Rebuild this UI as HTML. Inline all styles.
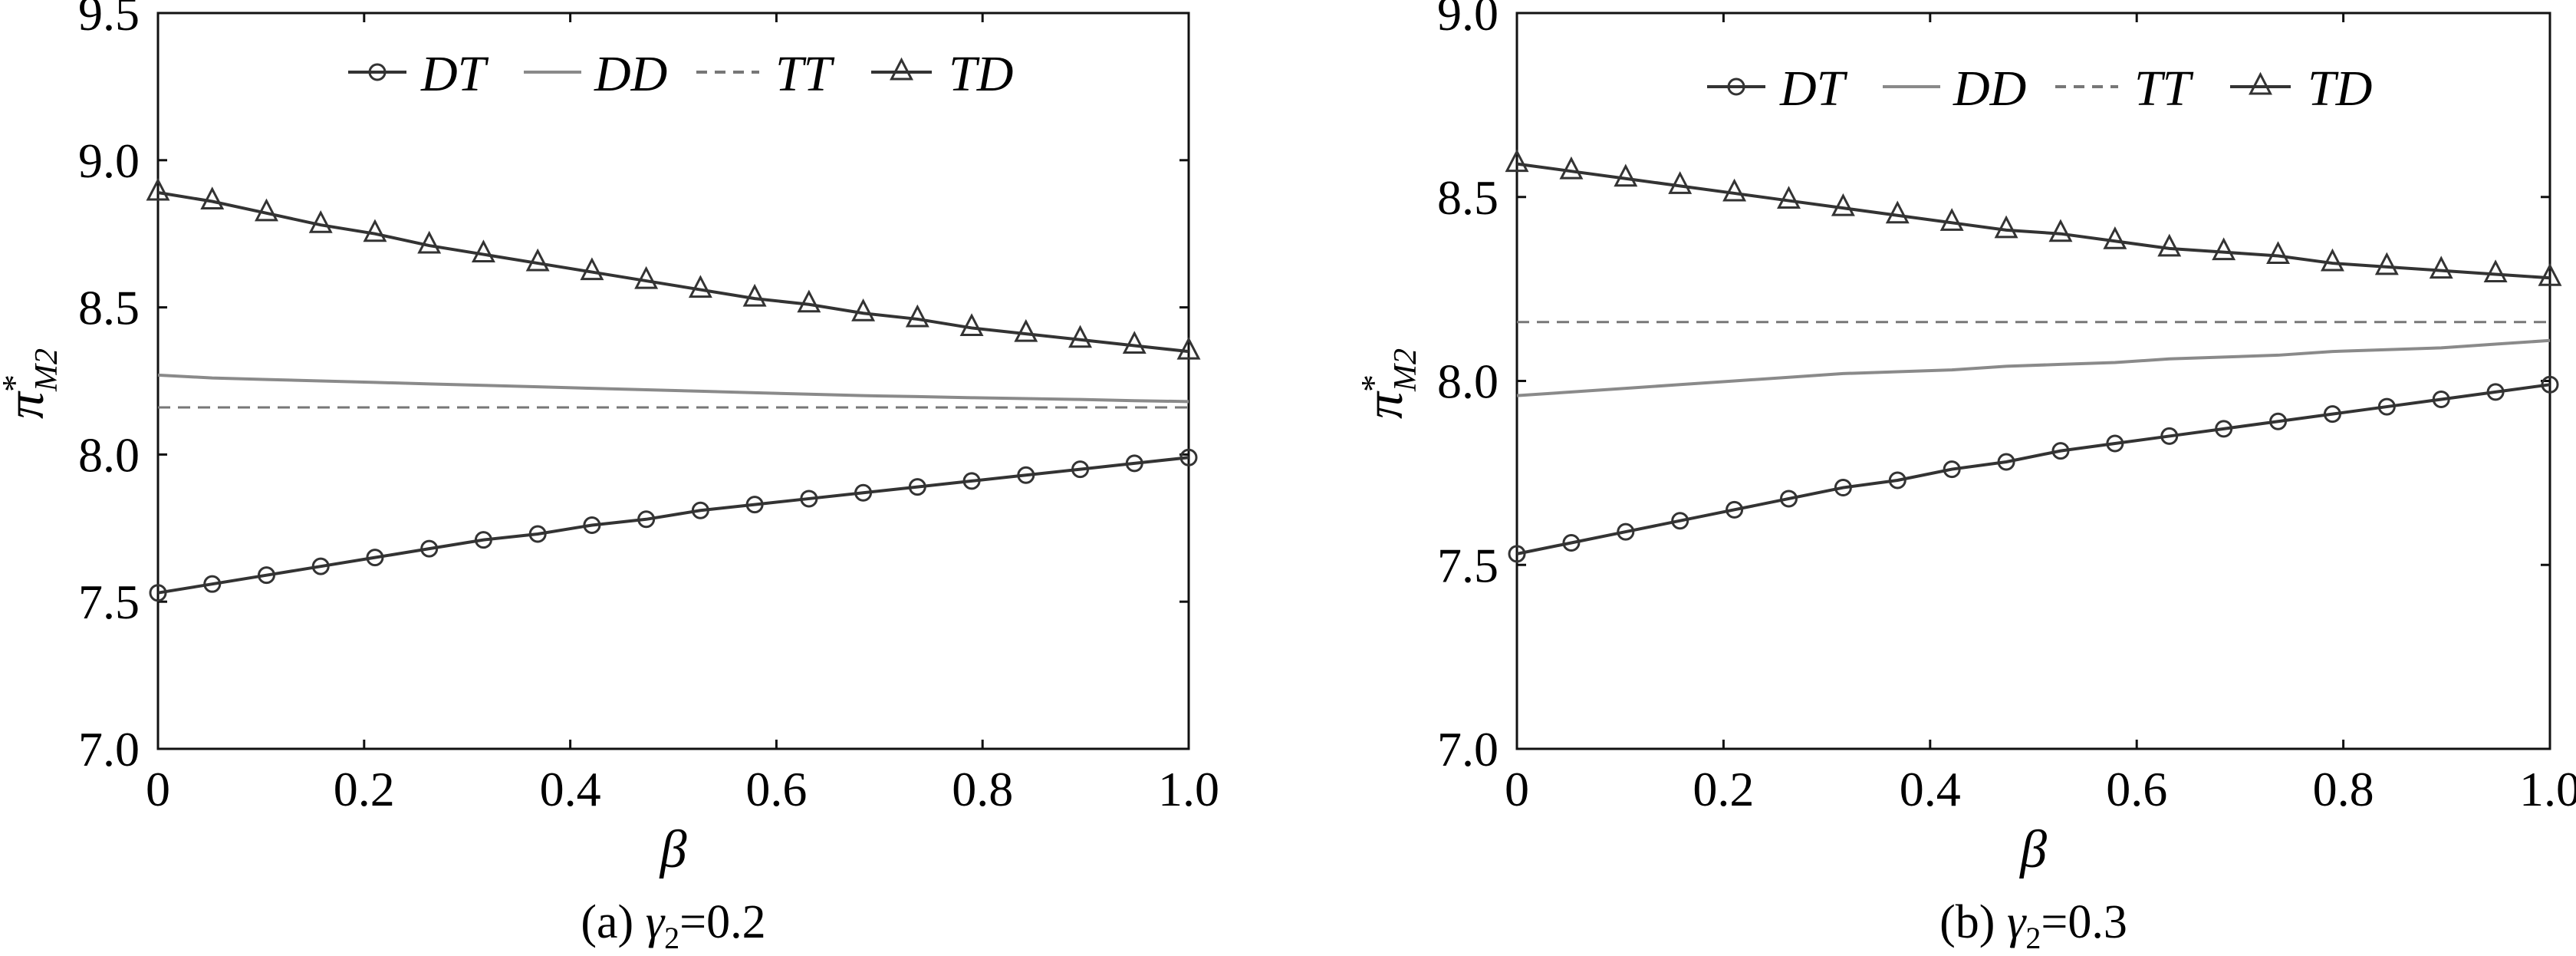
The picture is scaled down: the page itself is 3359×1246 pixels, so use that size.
<!DOCTYPE html>
<html><head><meta charset="utf-8"><style>
html,body{margin:0;padding:0;background:#fff}
svg{display:block}
text{font-family:"Liberation Serif",serif;fill:#000}
</style></head><body>
<svg id="fig" width="3359" height="1246" viewBox="0 0 3359 1246" xmlns="http://www.w3.org/2000/svg"></svg>
<script>
const betaValues=[0,1/19,2/19,3/19,4/19,5/19,6/19,7/19,8/19,9/19,10/19,11/19,12/19,13/19,14/19,15/19,16/19,17/19,18/19,1];
const xTicks=[0,0.2,0.4,0.6,0.8,1.0];
const xTickLabels=["0","0.2","0.4","0.6","0.8","1.0"];
const aYTicks=[7.0,7.5,8.0,8.5,9.0,9.5];
const aYTickLabels=["7.0","7.5","8.0","8.5","9.0","9.5"];
const bYTicks=[7.0,7.5,8.0,8.5,9.0];
const bYTickLabels=["7.0","7.5","8.0","8.5","9.0"];
const aTD=[8.89,8.86,8.82,8.78,8.75,8.71,8.68,8.65,8.62,8.59,8.56,8.53,8.51,8.48,8.46,8.43,8.41,8.39,8.37,8.35];
const aDT=[7.53,7.56,7.59,7.62,7.65,7.68,7.71,7.73,7.76,7.78,7.81,7.83,7.85,7.87,7.89,7.91,7.93,7.95,7.97,7.99];
const aDD=[8.27,8.26,8.255,8.25,8.245,8.24,8.235,8.23,8.225,8.22,8.215,8.21,8.205,8.2,8.197,8.193,8.19,8.187,8.183,8.18];
const aTT=[8.16,8.16];
const bTD=[8.59,8.57,8.55,8.53,8.51,8.49,8.47,8.45,8.43,8.41,8.40,8.38,8.36,8.35,8.34,8.32,8.31,8.30,8.29,8.28];
const bDT=[7.53,7.56,7.59,7.62,7.65,7.68,7.71,7.73,7.76,7.78,7.81,7.83,7.85,7.87,7.89,7.91,7.93,7.95,7.97,7.99];
const bDD=[7.96,7.97,7.98,7.99,8.0,8.01,8.02,8.025,8.03,8.04,8.045,8.05,8.06,8.065,8.07,8.08,8.085,8.09,8.10,8.11];
const bTT=[8.16,8.16];

const NS="http://www.w3.org/2000/svg";
const svg=document.getElementById('fig');
function mk(tag,attrs,parent){const e=document.createElementNS(NS,tag);for(const k in attrs)e.setAttribute(k,attrs[k]);(parent||svg).appendChild(e);return e;}

function panel(id,L,R,T,B,ymin,ymax,yTicks,yLabels,TD,DT,DD,TT,legY,caption,capLetter){
  const g=mk('g',{});
  
  
  const sx=v=>L+(R-L)*v;
  const sy=v=>B-(B-T)*(v-ymin)/(ymax-ymin);
  const frame=mk('rect',{x:L,y:T,width:R-L,height:B-T,fill:'none',stroke:'#111','stroke-width':3},g);
  
  
  xTicks.forEach((v,i)=>{
    const x=sx(v);
    const t1=mk('line',{x1:x,y1:B,x2:x,y2:B-12,stroke:'#111','stroke-width':3},g);
    
    
    const t2=mk('line',{x1:x,y1:T,x2:x,y2:T+12,stroke:'#111','stroke-width':3},g);
    
    
    const lb=mk('text',{x:x,y:1050,'font-size':64,'text-anchor':'middle'},g);
    lb.textContent=xTickLabels[i];
    
    
  });
  yTicks.forEach((v,i)=>{
    const y=sy(v);
    const t1=mk('line',{x1:L,y1:y,x2:L+12,y2:y,stroke:'#111','stroke-width':3},g);
    
    
    const t2=mk('line',{x1:R,y1:y,x2:R-12,y2:y,stroke:'#111','stroke-width':3},g);
    
    
    const lb=mk('text',{x:L-24,y:y+22,'font-size':64,'text-anchor':'end'},g);
    lb.textContent=yLabels[i];
    
    
  });
  // series
  const pts=arr=>arr.map((v,i)=>sx(betaValues[i])+','+sy(v)).join(' ');
  const dd=mk('polyline',{points:pts(DD),fill:'none',stroke:'#8a8a8a','stroke-width':4},g);
  
  
  const tt=mk('line',{x1:sx(0),y1:sy(TT[0]),x2:sx(1),y2:sy(TT[1]),stroke:'#777','stroke-width':3,'stroke-dasharray':'16 10'},g);
  
  
  const td=mk('polyline',{points:pts(TD),fill:'none',stroke:'#333','stroke-width':4},g);
  
  
  const dt=mk('polyline',{points:pts(DT),fill:'none',stroke:'#333','stroke-width':4},g);
  
  
  TD.forEach((v,i)=>{
    const x=sx(betaValues[i]),y=sy(v);
    const m=mk('polygon',{points:`${x},${y-16} ${x-13},${y+9} ${x+13},${y+9}`,fill:'none',stroke:'#333','stroke-width':3},g);
    
    
  });
  DT.forEach((v,i)=>{
    const m=mk('circle',{cx:sx(betaValues[i]),cy:sy(v),r:10,fill:'none',stroke:'#333','stroke-width':3},g);
    
    
  });
  // legend
  const lg=mk('g',{},g);
  
  
  const o=L;
  const items=[
    {name:'DT',x1:248,x2:324,tx:343,stroke:'#333',dash:null,mark:'c'},
    {name:'DD',x1:477,x2:552,tx:569,stroke:'#8a8a8a',dash:null,mark:null},
    {name:'TT',x1:702,x2:784,tx:805,stroke:'#777',dash:'14 10',mark:null},
    {name:'TD',x1:930,x2:1009,tx:1031,stroke:'#333',dash:null,mark:'t'}
  ];
  items.forEach(it=>{
    const e=mk('g',{},lg);
    
    
    const a={x1:o+it.x1,y1:legY,x2:o+it.x2,y2:legY,stroke:it.stroke,'stroke-width':4};
    if(it.dash)a['stroke-dasharray']=it.dash;
    mk('line',a,e);
    const cx=o+(it.x1+it.x2)/2;
    if(it.mark==='c')mk('circle',{cx:cx,cy:legY,r:10,fill:'none',stroke:'#333','stroke-width':3},e);
    if(it.mark==='t')mk('polygon',{points:`${cx},${legY-16} ${cx-13},${legY+9} ${cx+13},${legY+9}`,fill:'none',stroke:'#333','stroke-width':3},e);
    const t=mk('text',{x:o+it.tx,y:legY+24,'font-size':66,'font-style':'italic'},e);
    t.textContent=it.name;
  });
  // axis titles
  const xt=mk('text',{x:(L+R)/2,y:1130,'font-size':70,'font-style':'italic','text-anchor':'middle'},g);
  xt.textContent='β';
  
  
  const yx=L-150,yy=500;
  const yt=mk('text',{x:0,y:0,'font-size':70,'font-style':'italic',transform:`translate(${yx},${yy}) rotate(-90)`,'text-anchor':'middle'},g);
  
  
  const s1=mk('tspan',{},yt);s1.textContent='π';
  const s2=mk('tspan',{'font-size':46,dy:-22,'font-style':'normal'},yt);s2.textContent='*';
  const s3=mk('tspan',{'font-size':42,dx:-22,dy:40},yt);s3.textContent='M2';
  // caption
  const cp=mk('text',{x:(L+R)/2,y:1222,'font-size':62,'text-anchor':'middle'},g);
  
  
  const c1=mk('tspan',{},cp);c1.textContent='('+capLetter+') ';
  const c2=mk('tspan',{'font-style':'italic'},cp);c2.textContent='γ';
  const c3=mk('tspan',{'font-size':40,dy:14},cp);c3.textContent='2';
  const c4=mk('tspan',{dy:-14},cp);c4.textContent='='+caption;
}
panel('panel-a',206,1550,17,976,7.0,9.5,aYTicks,aYTickLabels,aTD,aDT,aDD,aTT,94,'0.2','a');
panel('panel-b',1978,3325,17,976,7.0,9.0,bYTicks,bYTickLabels,bTD,bDT,bDD,bTT,113,'0.3','b');
</script>
</body></html>
